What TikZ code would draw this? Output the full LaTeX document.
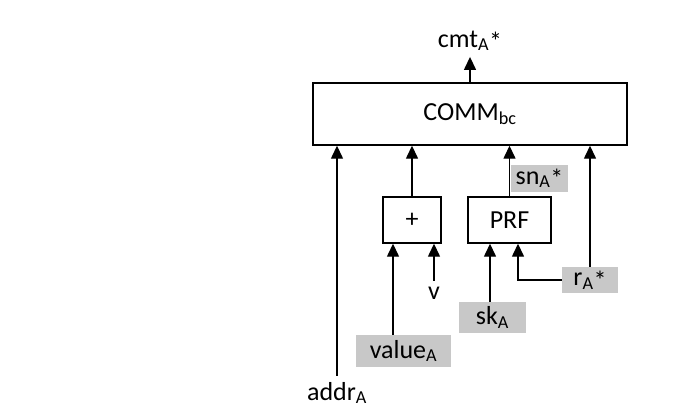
\documentclass[tikz,border=0pt]{standalone}
\usepackage{fontspec}
\setmainfont{Carlito}
\usetikzlibrary{arrows.meta}
\definecolor{tagGray}{RGB}{200,200,200}
\newcommand{\starmark}{\raisebox{-3.5pt}{*}}

\begin{document}
\begin{tikzpicture}[x=1pt,y=-1pt,font=\fontsize{26}{31}\selectfont]
    \tikzstyle{every node}+=[inner sep=0pt]
    \tikzstyle{blk}=[draw=black,line width=1.4pt,minimum height=46]
    \tikzstyle{tag}=[fill=tagGray,minimum height=28]
    \tikzstyle{lbl}=[inner sep=6pt]
    \tikzstyle{arr}=[black,line width=1.4pt,-{Triangle[width=12pt,length=13pt]}]
    \useasboundingbox (0,0) rectangle (674,410);
    % boxes
    \node [blk,minimum width=314,minimum height=62] (comm) at (470,114) {COMM\textsubscript{bc}};
    \node [blk,minimum width=58] (plus) at (412,220) {+};
    \node [blk,minimum width=83] (prf) at (509.5,220) {PRF};
    % labels
    \node [lbl,anchor=base] (cmt) at (470,47) {cmt\textsubscript{A}\starmark};
    \node [tag,minimum width=57,minimum height=27] (snA) at (539.5,178.5) {sn\textsubscript{A}\starmark};
    \node [tag,minimum width=95,minimum height=32] (value) at (403.5,351) {value\textsubscript{A}};
    \node [tag,minimum width=67,minimum height=31] (skA) at (492.5,317.5) {sk\textsubscript{A}};
    \node [tag,minimum width=56,minimum height=26] (rA) at (590,280) {r\textsubscript{A}\starmark};
    \node [lbl] (addr) at (337,393) {addr\textsubscript{A}};
    \node [lbl] (v) at (434,293) {v};
    \coordinate (pl) at ([xshift=-19]plus.south);
    \coordinate (pk) at ([xshift=-19.5]prf.south);
    \coordinate (pr) at ([xshift=8.5]prf.south);
    % connectors
    \draw [arr] (comm.north) -- (cmt.south);
    \draw [arr] (addr.north) -- (addr.north |- comm.south);
    \draw [arr] (plus.north) -- (plus.north |- comm.south);
    \draw [arr] (prf.north) -- (prf.north |- comm.south);
    \draw [arr] (rA.north) -- (rA.north |- comm.south);
    \draw [arr] (pl |- value.north) -- (pl);
    \draw [arr] (v.north) -- (v.north |- plus.south);
    \draw [arr] (pk |- skA.north) -- (pk);
    \draw [arr] (rA.west) -| (pr);
\end{tikzpicture}
\end{document}
